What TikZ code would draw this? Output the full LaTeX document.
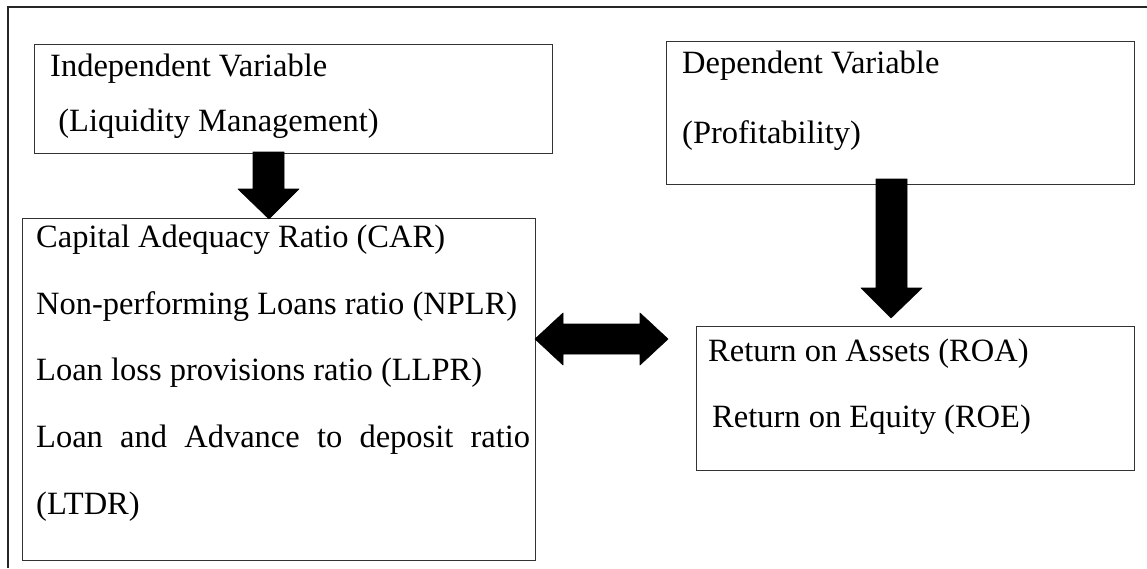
\documentclass[tikz,border=0pt]{standalone}
\usepackage{fontspec}
\setmainfont{Liberation Serif}
\begin{document}
\begin{tikzpicture}[x=1pt,y=-1pt,
  box/.style={draw=black!80, line width=1.2pt, anchor=north west, inner sep=0pt, minimum width=#1},
  txt/.style={anchor=base west, inner sep=0pt, font=\fontsize{32.5}{38}\selectfont},
  blk/.style={fill=black, draw=black, line width=0.6pt, line join=round}]
\useasboundingbox (0,0) rectangle (1147,568);
% outer frame, open at the right and at the bottom
\coordinate (fr) at (1147,7);
\coordinate (fc) at (8,7);
\coordinate (fb) at (8,568);
\draw[line width=1.2pt, black!85] (fr) -- (fc) -- (fb);

% boxes
\node[box=518pt, minimum height=109pt] (indep) at (34,44) {};
\node[box=468pt, minimum height=143pt] (dep) at (666,41) {};
\node[box=513pt, minimum height=342pt] (ratios) at (22,218) {};
\node[box=438pt, minimum height=144pt] (perf) at (696,326) {};

% texts
\node[txt] (t1) at (50,76) {Independent Variable};
\node[txt] (t2) at (50,131) {\ (Liquidity Management)};
\node[txt] (t3) at (682,73) {Dependent Variable};
\node[txt] (t4) at (682,143) {(Profitability)};
\node[txt] (t5) at (36,247) {Capital Adequacy Ratio (CAR)};
\node[txt] (t6) at (36,314) {Non-performing Loans ratio (NPLR)};
\node[txt] (t7) at (36,380) {Loan loss provisions ratio (LLPR)};
\node[txt] (t8) at (36,447) {\makebox[494pt][s]{Loan and Advance to deposit ratio}};
\node[txt] (t9) at (36,514) {(LTDR)};
\node[txt] (t10) at (708,361) {Return on Assets (ROA)};
\node[txt] (t11) at (712,427) {Return on Equity (ROE)};

% block arrows
\fill[blk] (253,152) -- (284,152) -- (284,189) -- (299,189) -- (269,219)
  -- (238,189) -- (253,189) -- cycle;
\fill[blk] (876,179) -- (907,179) -- (907,288) -- (922,288) -- (891,318)
  -- (861,288) -- (876,288) -- cycle;
\fill[blk] (535,339) -- (563,313) -- (563,324) -- (640,324) -- (640,313)
  -- (668,339) -- (640,365) -- (640,354) -- (563,354) -- (563,365) -- cycle;
\end{tikzpicture}
\end{document}
